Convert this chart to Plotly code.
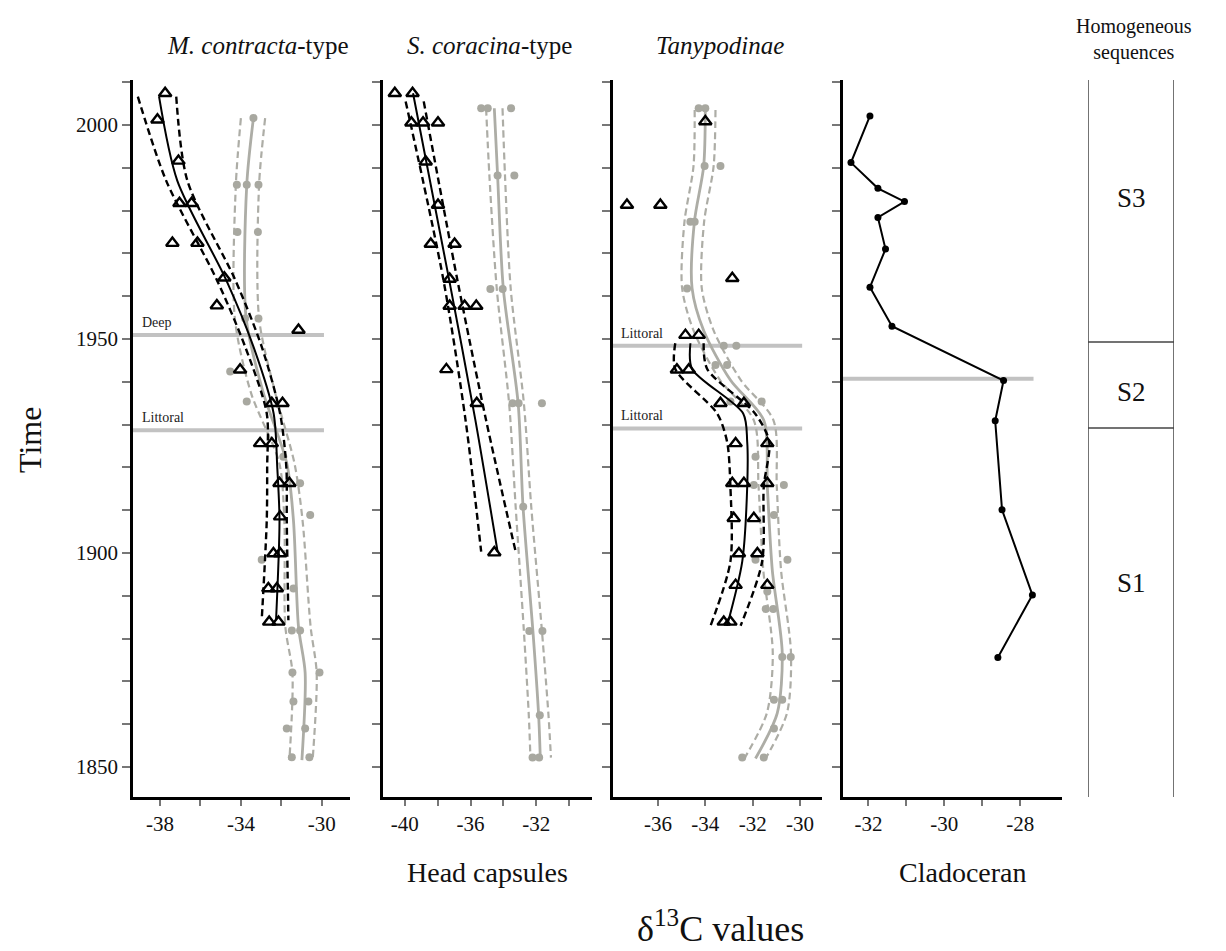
import plotly.graph_objects as go

# ---------------- data ----------------
# Panel 1: M. contracta-type
mc_tri_year = [2007.4, 2001.2, 1991.6, 1981.7, 1981.7, 1972.4, 1972.4, 1964.3, 1957.8, 1952.1,
               1942.8, 1935.0, 1935.0, 1925.6, 1925.6, 1916.3, 1916.3, 1908.5, 1899.9, 1899.9,
               1891.7, 1891.7, 1883.9, 1883.9]
mc_tri_val = [-37.75, -38.13, -37.09, -37.04, -36.44, -37.39, -36.15, -34.82, -35.19, -31.15,
              -34.04, -32.47, -31.94, -33.05, -32.47, -32.09, -31.60, -32.06, -32.39, -32.06,
              -32.64, -32.22, -32.60, -32.14]
mc_fit_year = [2006.6, 1987.0, 1963.8, 1948.2, 1932.6, 1920.0, 1907.7, 1884.3]
mc_fit_val = [-38.05, -37.15, -34.73, -33.38, -32.38, -32.20, -32.09, -32.26]
mc_fit_lo = [-39.10, -37.70, -35.19, -33.79, -32.72, -32.70, -32.72, -32.97]
mc_fit_hi = [-37.20, -36.65, -34.28, -32.97, -32.06, -31.75, -31.73, -31.65]
mc_gray_year = [2001.6, 1986.0, 1986.0, 1986.0, 1975.0, 1975.0, 1954.8, 1954.8, 1942.4, 1935.4,
                1922.5, 1916.3, 1908.9, 1898.4, 1891.7, 1881.9, 1881.9, 1872.1, 1872.1,
                1865.3, 1865.3, 1859.0, 1859.0, 1852.3, 1852.3]
mc_gray_val = [-33.38, -34.20, -33.71, -33.13, -34.17, -33.16, -33.79, -33.13, -34.53, -33.71,
               -31.90, -31.07, -30.57, -32.97, -31.40, -31.48, -31.07, -31.45, -30.11,
               -31.40, -30.66, -31.73, -30.82, -31.48, -30.61]
mc_gfit_year = [2001.6, 1986.0, 1954.8, 1937.4, 1921.0, 1907.7, 1882.8, 1872.0, 1851.6]
mc_gfit_val = [-33.38, -33.71, -33.74, -32.89, -31.73, -31.40, -31.15, -30.82, -30.98]
mc_gfit_lo = [-34.00, -34.25, -34.30, -33.50, -32.10, -31.85, -31.80, -31.45, -31.60]
mc_gfit_hi = [-32.80, -33.10, -33.10, -32.30, -31.35, -30.95, -30.55, -30.25, -30.45]

# Panel 2: S. coracina-type
sc_tri_year = [2007.4, 2007.4, 2000.5, 2000.5, 2000.5, 1991.4, 1981.3, 1972.2, 1972.2, 1964.0,
               1957.7, 1957.7, 1957.7, 1942.9, 1935.0, 1900.1]
sc_tri_val = [-40.61, -39.53, -39.60, -38.89, -37.98, -38.73, -37.98, -38.42, -36.97, -37.27,
              -37.27, -36.36, -35.65, -37.47, -35.62, -34.55]
sc_fit_year = [2007.4, 1963.8, 1931.0, 1900.3]
sc_fit_val = [-39.50, -37.30, -35.70, -34.35]
sc_band_year = [2005.5, 1963.8, 1931.0, 1900.3]
sc_fit_lo = [-39.95, -37.65, -36.30, -35.35]
sc_fit_hi = [-38.85, -36.80, -35.05, -33.25]
sc_gray_year = [2003.9, 2003.9, 2003.9, 1988.2, 1988.2, 1961.7, 1961.7, 1935.0, 1935.0, 1935.0,
                1910.8, 1881.8, 1881.8, 1862.1, 1852.2, 1852.2]
sc_gray_val = [-35.35, -34.95, -33.53, -34.35, -33.33, -34.79, -34.04, -33.44, -33.07, -31.65,
               -32.79, -32.42, -31.62, -31.78, -32.22, -31.82]
sc_gfit_year = [2003.9, 1988.2, 1961.7, 1935.0, 1910.8, 1881.8, 1862.1, 1852.2]
sc_gfit_val = [-34.55, -34.35, -34.00, -33.10, -32.80, -32.20, -31.85, -31.75]
sc_gfit_lo = [-35.05, -34.85, -34.40, -33.65, -33.25, -32.75, -32.45, -32.35]
sc_gfit_hi = [-34.05, -33.90, -33.55, -32.75, -32.30, -31.65, -31.25, -31.10]

# Panel 3: Tanypodinae
ta_tri_year = [2000.8, 1981.3, 1981.3, 1964.2, 1950.9, 1950.9, 1942.8, 1942.8, 1935.0, 1935.0,
               1925.6, 1925.6, 1916.3, 1916.3, 1916.3, 1908.1, 1908.1, 1899.9, 1899.9,
               1892.5, 1892.5, 1883.9, 1883.9]
ta_tri_val = [-34.00, -37.31, -35.90, -32.86, -34.84, -34.28, -35.20, -34.70, -33.36, -32.37,
              -32.72, -31.38, -32.86, -32.37, -31.38, -32.80, -31.95, -32.58, -31.80,
              -32.72, -31.38, -33.22, -32.94]
ta_fit_year = [1949.0, 1943.0, 1932.6, 1926.0, 1915.5, 1898.0, 1883.0]
ta_fit_val = [-34.63, -34.56, -32.40, -32.23, -32.23, -32.44, -33.08]
ta_fit_lo = [-35.27, -35.27, -33.50, -33.08, -32.94, -32.94, -33.78]
ta_fit_hi = [-34.07, -33.92, -31.90, -31.30, -31.53, -31.60, -32.51]
ta_gray_year = [2003.9, 2003.9, 1990.4, 1990.4, 1977.4, 1977.4, 1961.8, 1948.4, 1948.4,
                1943.9, 1943.9, 1935.4, 1935.4, 1922.5, 1915.9, 1915.9, 1908.9, 1898.4, 1898.4,
                1891.0, 1886.9, 1886.9, 1875.7, 1875.7, 1865.7, 1865.7, 1859.0, 1852.2, 1852.2]
ta_gray_val = [-34.28, -34.00, -34.03, -33.36, -34.63, -34.45, -34.77, -33.22, -32.69,
               -33.57, -33.08, -32.94, -31.62, -31.88, -31.95, -30.68, -31.10, -31.88, -30.53,
               -31.38, -31.45, -31.13, -30.75, -30.39, -31.10, -30.75, -31.10, -32.44, -31.53]
ta_gfit_year = [2003.5, 1990.3, 1977.4, 1961.9, 1952.0, 1940.4, 1931.0, 1915.5, 1896.0, 1876.6, 1862.6, 1852.0]
ta_gfit_val = [-34.00, -34.07, -34.46, -34.56, -34.07, -32.94, -31.53, -31.38, -31.17, -30.75, -30.96, -31.88]
ta_gfit_lo = [-34.45, -34.50, -34.88, -34.98, -34.50, -33.38, -31.95, -31.75, -31.55, -31.15, -31.40, -32.35]
ta_gfit_hi = [-33.57, -33.65, -34.05, -34.15, -33.65, -32.50, -31.12, -30.98, -30.80, -30.38, -30.55, -31.45]

# Panel 4: Cladoceran
cl_year = [2002.1, 1991.2, 1985.2, 1982.1, 1978.4, 1971.0, 1962.1, 1953.0, 1940.3, 1930.9, 1910.1, 1890.2, 1875.6]
cl_val = [-31.96, -32.46, -31.75, -31.05, -31.75, -31.55, -31.96, -31.38, -28.44, -28.66, -28.48, -27.68, -28.59]

# Reference lines (year) and their labels
mc_ref_year = [1950.9, 1928.7]
mc_ref_label = ["Deep", "Littoral"]
ta_ref_year = [1948.4, 1929.1]
ta_ref_label = ["Littoral", "Littoral"]
cl_ref_year = [1940.7]

# Homogeneous sequences
seq_bounds = [1949.3, 1929.2]
seq_labels = ["S3", "S2", "S1"]
seq_label_year = [1983.0, 1937.6, 1893.0]

# Ticks
year_major = [1850, 1900, 1950, 2000]
year_minor = [1860, 1870, 1880, 1890, 1910, 1920, 1930, 1940, 1960, 1970, 1980, 1990, 2010]
p1_major, p1_minor = [-38, -34, -30], [-36, -32]
p2_major, p2_minor = [-40, -36, -32], [-38, -34, -30]
p3_major, p3_minor = [-36, -34, -32, -30], []
p4_major, p4_minor = [-32, -30, -28], [-31, -29]

# ---------------- styles ----------------
FONT = "Liberation Serif, Times New Roman, serif"
BLACK = "#000000"
GRAY = "#a8a8a0"
GRAYLINE = "#adada6"
REFGRAY = "#c2c2c2"
W, H = 1226, 951
YR = [1843.0, 2010.5]

fig = go.Figure()


def line(xa, ya, xs, ys, color, width, dash="solid"):
    fig.add_trace(go.Scatter(x=xs, y=ys, xaxis=xa, yaxis=ya, mode="lines",
                             line=dict(color=color, width=width, dash=dash,
                                       shape="spline", smoothing=0.8),
                             hoverinfo="skip", showlegend=False))


def tri(xa, ya, xs, ys):
    fig.add_trace(go.Scatter(x=xs, y=ys, xaxis=xa, yaxis=ya, mode="markers",
                             marker=dict(symbol="triangle-up-open", size=11, color=BLACK,
                                         line=dict(width=2.4, color=BLACK)),
                             showlegend=False))


def dots(xa, ya, xs, ys):
    fig.add_trace(go.Scatter(x=xs, y=ys, xaxis=xa, yaxis=ya, mode="markers",
                             marker=dict(symbol="circle", size=8, color=GRAY),
                             showlegend=False))


DASH = "7px,4px"

# Panel 1
line("x", "y", mc_gfit_lo, mc_gfit_year, GRAYLINE, 2.2, DASH)
line("x", "y", mc_gfit_hi, mc_gfit_year, GRAYLINE, 2.2, DASH)
line("x", "y", mc_gfit_val, mc_gfit_year, GRAYLINE, 2.8)
dots("x", "y", mc_gray_val, mc_gray_year)
line("x", "y", mc_fit_lo, mc_fit_year, BLACK, 2.4, DASH)
line("x", "y", mc_fit_hi, mc_fit_year, BLACK, 2.4, DASH)
line("x", "y", mc_fit_val, mc_fit_year, BLACK, 2)
tri("x", "y", mc_tri_val, mc_tri_year)

# Panel 2
line("x2", "y2", sc_gfit_lo, sc_gfit_year, GRAYLINE, 2.2, DASH)
line("x2", "y2", sc_gfit_hi, sc_gfit_year, GRAYLINE, 2.2, DASH)
line("x2", "y2", sc_gfit_val, sc_gfit_year, GRAYLINE, 2.8)
dots("x2", "y2", sc_gray_val, sc_gray_year)
line("x2", "y2", sc_fit_lo, sc_band_year, BLACK, 2.4, DASH)
line("x2", "y2", sc_fit_hi, sc_band_year, BLACK, 2.4, DASH)
line("x2", "y2", sc_fit_val, sc_fit_year, BLACK, 2)
tri("x2", "y2", sc_tri_val, sc_tri_year)

# Panel 3
line("x3", "y3", ta_gfit_lo, ta_gfit_year, GRAYLINE, 2.2, DASH)
line("x3", "y3", ta_gfit_hi, ta_gfit_year, GRAYLINE, 2.2, DASH)
line("x3", "y3", ta_gfit_val, ta_gfit_year, GRAYLINE, 2.8)
dots("x3", "y3", ta_gray_val, ta_gray_year)
line("x3", "y3", ta_fit_lo, ta_fit_year, BLACK, 2.4, DASH)
line("x3", "y3", ta_fit_hi, ta_fit_year, BLACK, 2.4, DASH)
line("x3", "y3", ta_fit_val, ta_fit_year, BLACK, 2)
tri("x3", "y3", ta_tri_val, ta_tri_year)

# Panel 4
fig.add_trace(go.Scatter(x=cl_val, y=cl_year, xaxis="x4", yaxis="y4", mode="lines+markers",
                         line=dict(color=BLACK, width=2),
                         marker=dict(symbol="circle", size=7, color=BLACK),
                         showlegend=False))

# Panel 5 (invisible axes, for placement)
fig.add_trace(go.Scatter(x=[0.5], y=[1900], xaxis="x5", yaxis="y5", mode="markers",
                         marker=dict(size=1, color="rgba(0,0,0,0)"), hoverinfo="skip",
                         showlegend=False))

shapes = []
annotations = []

# reference lines
for yv, lab in zip(mc_ref_year, mc_ref_label):
    shapes.append(dict(type="line", xref="x domain", yref="y", x0=0, x1=0.88, y0=yv, y1=yv,
                       line=dict(color=REFGRAY, width=4), layer="below"))
    annotations.append(dict(xref="x domain", yref="y", x=0.03, y=yv, yshift=3, text=lab,
                            showarrow=False, xanchor="left", yanchor="bottom",
                            font=dict(family=FONT, size=14, color="#222")))
for yv, lab in zip(ta_ref_year, ta_ref_label):
    shapes.append(dict(type="line", xref="x3 domain", yref="y3", x0=0, x1=0.905, y0=yv, y1=yv,
                       line=dict(color=REFGRAY, width=4), layer="below"))
    annotations.append(dict(xref="x3 domain", yref="y3", x=0.03, y=yv, yshift=3, text=lab,
                            showarrow=False, xanchor="left", yanchor="bottom",
                            font=dict(family=FONT, size=14, color="#222")))
for yv in cl_ref_year:
    shapes.append(dict(type="line", xref="x4 domain", yref="y4", x0=0, x1=0.87, y0=yv, y1=yv,
                       line=dict(color=REFGRAY, width=4), layer="below"))

# sequences box
for xv in [0, 1]:
    shapes.append(dict(type="line", xref="x5", yref="y5", x0=xv, x1=xv, y0=1842.8, y1=2011.0,
                       line=dict(color="#444", width=1.5)))
for b in seq_bounds:
    shapes.append(dict(type="line", xref="x5", yref="y5", x0=0, x1=1, y0=b, y1=b,
                       line=dict(color="#444", width=1.5)))
for lab, yv in zip(seq_labels, seq_label_year):
    annotations.append(dict(xref="x5", yref="y5", x=0.5, y=yv, text=lab, showarrow=False,
                            xanchor="center", yanchor="middle",
                            font=dict(family=FONT, size=27, color="#111")))


def pann(x, y, text, size, **kw):
    annotations.append(dict(xref="paper", yref="paper", x=x / W, y=1 - y / H, text=text,
                            xanchor="center", yanchor="middle",
                            showarrow=False, font=dict(family=FONT, size=size, color="#111"), **kw))


pann(258, 45, "<i>M. contracta</i>-type", 25)
pann(489, 45, "<i>S. coracina</i>-type", 25)
pann(720, 45, "<i>Tanypodinae</i>", 25)
pann(1134, 40, "Homogeneous<br>sequences", 20)
pann(487, 872, "Head capsules", 28)
pann(963, 872, "Cladoceran", 28)
pann(720, 926, "δ<sup>13</sup>C values", 36)
pann(30, 440, "Time", 32, textangle=-90)


def xax(dom, rng, major, minor):
    return dict(domain=[dom[0] / W, dom[1] / W], range=rng, showline=True, linecolor=BLACK,
                linewidth=2.5, ticks="outside", ticklen=6, tickwidth=1.5, tickcolor="#777",
                tickmode="array", tickvals=major, ticktext=[str(v) for v in major],
                minor=dict(tickmode="array", tickvals=minor, ticks="outside", ticklen=6,
                           tickwidth=1.5, tickcolor="#777", showgrid=False),
                showgrid=False, zeroline=False,
                tickfont=dict(family=FONT, size=21, color="#111"), fixedrange=True)


def yax(anchor, labels):
    return dict(domain=[1 - 797 / H, 1 - 80 / H], range=YR, anchor=anchor, showline=True,
                linecolor=BLACK, linewidth=2.5, ticks="outside", ticklen=8, tickwidth=1.5,
                tickcolor="#777", tickmode="array", tickvals=year_major,
                ticktext=[str(t) for t in year_major],
                minor=dict(tickmode="array", tickvals=year_minor, ticks="outside", ticklen=8,
                           tickwidth=1.5, tickcolor="#777", showgrid=False),
                showticklabels=labels, showgrid=False, zeroline=False,
                tickfont=dict(family=FONT, size=21, color="#111"), fixedrange=True)


fig.update_layout(
    width=W, height=H, margin=dict(l=0, r=0, t=0, b=0),
    font=dict(family=FONT, color="#111"),
    paper_bgcolor="white", plot_bgcolor="white", showlegend=False,
    xaxis=xax((133, 350), [-39.34, -28.6], p1_major, p1_minor),
    xaxis2=xax((383, 592), [-41.33, -28.6], p2_major, p2_minor),
    xaxis3=xax((613, 822), [-37.9, -29.07], p3_major, p3_minor),
    xaxis4=xax((843, 1062), [-32.67, -26.9], p4_major, p4_minor),
    xaxis5=dict(domain=[1088 / W, 1174 / W], range=[0, 1], visible=False, anchor="y5"),
    yaxis=yax("x", True),
    yaxis2=yax("x2", False),
    yaxis3=yax("x3", False),
    yaxis4=yax("x4", False),
    yaxis5=dict(domain=[1 - 797 / H, 1 - 80 / H], range=YR, visible=False, anchor="x5"),
    shapes=shapes, annotations=annotations,
)
fig.update_layout(xaxis=dict(anchor="y"), xaxis2=dict(anchor="y2"), xaxis3=dict(anchor="y3"),
                  xaxis4=dict(anchor="y4"))

fig.write_html("out.html")
